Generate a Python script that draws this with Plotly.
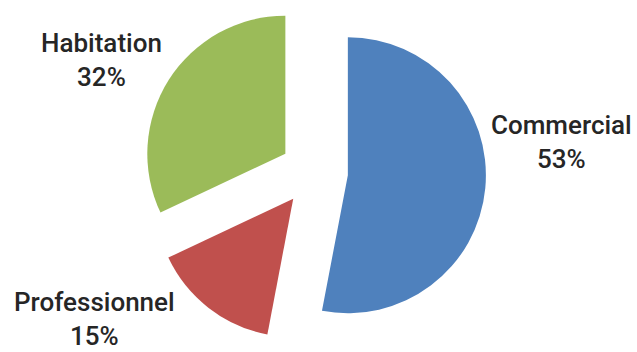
import plotly.graph_objects as go

labels = ["Commercial", "Professionnel", "Habitation"]
values = [53, 15, 32]
colors = ["#4F81BD", "#C0504D", "#9BBB59"]

W, H = 637, 352
# label anchor positions in pixels (layout only)
label_pos = {"Commercial": (561, 145), "Professionnel": (94, 326), "Habitation": (101, 61)}

fig = go.Figure(go.Pie(
    labels=labels,
    values=values,
    sort=False,
    direction="clockwise",
    rotation=0,
    pull=[0.246, 0.246, 0.246],
    marker=dict(colors=colors, line=dict(width=0)),
    textinfo="none",
    hoverinfo="label+percent",
    domain=dict(x=[0.0, 0.986], y=[0, 1]),
))

total = sum(values)
annotations = []
for lab, val in zip(labels, values):
    px, py = label_pos[lab]
    annotations.append(dict(
        text=f"{lab}<br>{round(100 * val / total)}%",
        x=px / W, y=1 - py / H, xref="paper", yref="paper",
        xanchor="center", yanchor="middle", showarrow=False,
        font=dict(family="Roboto", size=26, color="#262626", weight=500),
        align="center", borderpad=0,
    ))

fig.update_layout(
    width=W, height=H,
    margin=dict(l=0, r=0, t=0, b=8),
    showlegend=False,
    paper_bgcolor="white",
    plot_bgcolor="white",
    annotations=annotations,
)

fig.write_html("out.html", config={"displayModeBar": False},
               post_script="document.body.style.margin='0';")
